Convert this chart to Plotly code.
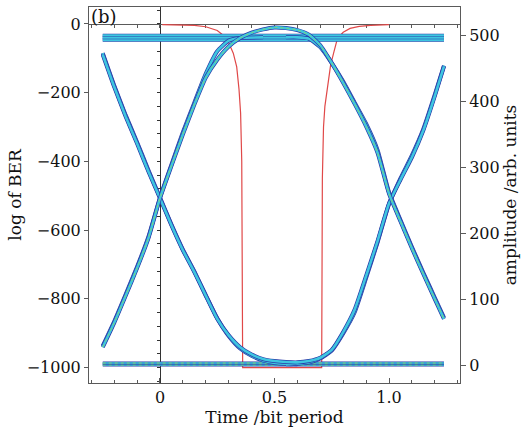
import plotly.graph_objects as go

# ---------------- data ----------------
# time axis (bit periods) shared by the full-window eye paths
t_full = [-0.25, -0.2, -0.15, -0.1, -0.05, 0.0, 0.05, 0.1, 0.15, 0.2, 0.25, 0.3,
          0.35, 0.4, 0.45, 0.5, 0.55, 0.6, 0.65, 0.7, 0.75, 0.8, 0.85, 0.9,
          0.95, 1.0, 1.05, 1.1, 1.15, 1.2, 1.24]
# isolated "1" (0-1-0) upper arc
amp_010 = [27, 64, 105, 147, 193, 253, 302, 350, 395, 436, 463, 483,
           496, 504, 509, 512, 511, 508, 501, 485, 458, 428, 396, 362,
           322, 260, 218, 177, 138, 100, 70]
# isolated "0" (1-0-1) lower arc
amp_101 = [471, 422, 377, 336, 293, 253, 212, 174, 141, 105, 70, 45,
           27, 16, 9, 6, 4.5, 4, 6, 11, 23, 50, 84, 135,
           188, 245, 281, 315, 356, 408, 453]

# rising edge that settles on the "1" rail (0-1-1)
t_011 = [-0.25, -0.2, -0.15, -0.1, -0.05, 0.0, 0.05, 0.1, 0.15, 0.2, 0.25, 0.3, 0.35, 0.45]
amp_011 = [29, 66, 107, 149, 195, 254, 304, 353, 398, 442, 476, 492, 496, 497]
# falling edge that settles on the "0" rail (1-0-0)
t_100 = [-0.25, -0.2, -0.15, -0.1, -0.05, 0.0, 0.05, 0.1, 0.15, 0.2, 0.25, 0.3, 0.35, 0.4, 0.45, 0.5, 0.6]
amp_100 = [473, 424, 379, 338, 295, 254, 213, 175, 142, 106, 71, 44, 25, 14, 7, 3, 1]
# falling edge at the end of the bit (1-1-0)
t_110 = [0.55, 0.6, 0.65, 0.7, 0.75, 0.8, 0.85, 0.9, 0.95, 1.0, 1.05, 1.1, 1.15, 1.2, 1.24]
amp_110 = [497, 497, 495, 482, 458, 430, 398, 366, 326, 262, 220, 179, 140, 102, 72]
# rising edge at the end of the bit (0-0-1)
t_001 = [0.55, 0.6, 0.65, 0.7, 0.75, 0.8, 0.85, 0.9, 0.95, 1.0, 1.05, 1.1, 1.15, 1.2, 1.24]
amp_001 = [1, 2, 4, 10, 22, 48, 80, 132, 186, 244, 283, 318, 358, 410, 454]

# steady "1" and "0" rails
t_rail = [-0.25, 1.24]
high_rail_levels = [493, 496.5, 500]
low_rail_levels = [0, 3]

# log of BER versus sampling time
t_ber = [0.01, 0.1, 0.15, 0.2, 0.25, 0.28, 0.3, 0.32, 0.335, 0.345, 0.352, 0.357, 0.361,
         0.5, 0.706, 0.709, 0.714, 0.72, 0.73, 0.745, 0.76, 0.775, 0.8, 0.83, 0.87, 0.92, 1.0]
log_ber = [-2, -3, -4, -8, -19, -35, -55, -85, -125, -190, -260, -400, -1000,
           -1000, -1000, -450, -300, -240, -190, -120, -80, -42, -24, -13, -7, -4, -2]

# axis settings
x_range = [-0.31, 1.31]
ber_range = [-1045, 49.4]
amp_range = [-27.3, 543]
x_ticks = [0, 0.5, 1.0]
x_ticklabels = ["0", "0.5", "1.0"]
ber_ticks = [0, -200, -400, -600, -800, -1000]
amp_ticks = [0, 100, 200, 300, 400, 500]

# ---------------- figure ----------------
DARK = "#2a3aa8"
CYAN = "#3ec6e0"
GREEN = "#86d86a"
FONT = "DejaVu Serif"

fig = go.Figure()


def add_path(tx, ay, width_dark=4.0, width_light=2.6, light=CYAN, spline=True, accent=None):
    shape = "spline" if spline else "linear"
    fig.add_trace(go.Scatter(x=tx, y=ay, mode="lines", yaxis="y2",
                             line=dict(color=DARK, width=width_dark, shape=shape, smoothing=0.5),
                             hoverinfo="skip", showlegend=False))
    fig.add_trace(go.Scatter(x=tx, y=ay, mode="lines", yaxis="y2",
                             line=dict(color=light, width=width_light, shape=shape, smoothing=0.5),
                             hoverinfo="skip", showlegend=False))
    if accent:
        fig.add_trace(go.Scatter(x=tx, y=ay, mode="lines", yaxis="y2",
                                 line=dict(color=accent, width=0.9, shape=shape, smoothing=0.5, dash="dot"),
                                 hoverinfo="skip", showlegend=False))


# rails
for lv in high_rail_levels:
    add_path(t_rail, [lv, lv], width_dark=3.4, width_light=2.4, spline=False)
for lv in low_rail_levels:
    add_path(t_rail, [lv, lv], width_dark=2.8, width_light=1.6, spline=False, accent=GREEN)

# edges
add_path(t_100, amp_100)
add_path(t_011, amp_011)
add_path(t_110, amp_110)
add_path(t_001, amp_001)
add_path(t_full, amp_101)
add_path(t_full, amp_010, accent=GREEN)

# BER curve
fig.add_trace(go.Scatter(x=t_ber, y=log_ber, mode="lines", yaxis="y",
                         line=dict(color="#e04848", width=1.2),
                         hoverinfo="skip", showlegend=False))

# dummy traces to activate the inner axes
fig.add_trace(go.Scatter(x=[None], y=[None], xaxis="x3", yaxis="y", showlegend=False, hoverinfo="skip"))
fig.add_trace(go.Scatter(x=[None], y=[None], xaxis="x", yaxis="y3", showlegend=False, hoverinfo="skip"))

y0_pos = (0 - ber_range[0]) / (ber_range[1] - ber_range[0])
x0_pos = (0 - x_range[0]) / (x_range[1] - x_range[0])

axis_col = "#5a5a5a"
tickfont = dict(family=FONT, size=16, color="#111")

fig.update_layout(
    width=524, height=434,
    margin=dict(l=89, r=64, t=7, b=51, autoexpand=False),
    paper_bgcolor="white", plot_bgcolor="white",
    font=dict(family=FONT, size=16, color="#111"),
    hovermode=False,
    xaxis=dict(range=x_range, showgrid=False, zeroline=False, automargin=False,
               showline=True, linecolor=axis_col, linewidth=1, mirror=True,
               tickvals=x_ticks, ticktext=x_ticklabels, ticks="inside", ticklen=5,
               tickcolor=axis_col, tickfont=tickfont,
               minor=dict(dtick=0.1, tick0=0, ticks="inside", ticklen=3, tickcolor=axis_col, showgrid=False),
               title=dict(text="Time /bit period", font=dict(family=FONT, size=17), standoff=4)),
    yaxis=dict(range=ber_range, showgrid=False, zeroline=False, automargin=False,
               showline=True, linecolor=axis_col, linewidth=1,
               tickvals=ber_ticks, ticks="outside", ticklen=4, tickcolor=axis_col,
               tickfont=tickfont,
               title=dict(text="log of BER", font=dict(family=FONT, size=17), standoff=0)),
    yaxis2=dict(range=amp_range, overlaying="y", side="right", anchor="x", automargin=False,
                showgrid=False, zeroline=False, showline=True, linecolor=axis_col, linewidth=1,
                tickvals=amp_ticks, ticks="outside", ticklen=5, tickcolor=axis_col,
                tickfont=tickfont,
                title=dict(text="amplitude /arb. units", font=dict(family=FONT, size=17), standoff=5)),
    xaxis3=dict(range=x_range, overlaying="x", anchor="free", position=y0_pos, side="bottom",
                automargin=False, layer="below traces",
                showgrid=False, zeroline=False, showline=True, linecolor=axis_col, linewidth=1,
                dtick=0.1, tick0=0, ticks="outside", ticklen=3, tickcolor=axis_col,
                showticklabels=False),
    yaxis3=dict(range=ber_range, overlaying="y", anchor="free", position=x0_pos, side="left",
                automargin=False, layer="below traces",
                showgrid=False, zeroline=False, showline=True, linecolor="#333", linewidth=1,
                dtick=40, tick0=0, ticks="outside", ticklen=3, tickcolor="#333",
                showticklabels=False),
    annotations=[dict(text="(b)", x=0, y=1, xref="paper", yref="paper",
                      xanchor="left", yanchor="top", xshift=0, yshift=3, showarrow=False,
                      font=dict(family=FONT, size=18, color="#111"))],
)

fig.write_html("out.html", config=dict(displayModeBar=False),
               post_script="document.body.style.margin='0px';document.body.style.overflow='hidden';")
